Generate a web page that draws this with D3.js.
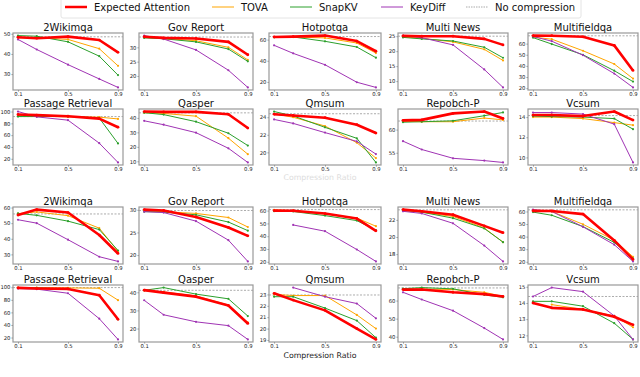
<!DOCTYPE html>
<html><head><meta charset="utf-8">
<script src="https://cdn.jsdelivr.net/npm/d3@7"></script>
<style>body{margin:0;background:#fff}svg{display:block;font-family:"DejaVu Sans",sans-serif}</style>
</head><body><svg id="c" width="640" height="377"></svg>
<script>
const ratios = [0.1, 0.25, 0.5, 0.75, 0.9];
const xTicks = [0.1, 0.5, 0.9];
const methods = ["Expected Attention", "TOVA", "SnapKV", "KeyDiff"];
const titles = ["2Wikimqa","Gov Report","Hotpotqa","Multi News","Multifieldqa",
  "Passage Retrieval","Qasper","Qmsum","Repobch-P","Vcsum",
  "2Wikimqa","Gov Report","Hotpotqa","Multi News","Multifieldqa",
  "Passage Retrieval","Qasper","Qmsum","Repobch-P","Vcsum"];
const expectedAttention = [
  [48.3,47.8,48.6,46.9,40.8],[33.7,33.3,33.1,31.9,27.4],[62.5,62.8,63.8,58.6,49.0],[25.1,25.0,25.0,24.1,22.1],[67.2,67.1,66.1,58.4,35.9],
  [95,94,92,88,73.5],[44.4,44.2,44.2,42.5,33.0],[24.35,24.2,23.95,23.15,22.2],[62.0,62.1,63.5,63.9,62.4],[14.2,14.2,14.1,14.55,13.7],
  [55.2,58.7,56.8,42.4,30.6],[30.05,29.85,28.4,26.1,24.25],[60.0,59.9,57.7,53.8,44.2],[23.2,23.0,22.6,21.3,20.5],[60.5,60.4,57.9,37.0,21.9],
  [99,98,97.4,87.4,49],[41.2,39.8,37.6,32.7,22.8],[23.1,22.5,21.6,20.0,19.05],[66.1,66.1,64.6,63.6,62.3],[14.0,13.7,13.6,13.15,12.65]];
const tova = [
  [48.0,48.0,47.2,42.6,34.1],[33.5,33.1,32.3,30.0,25.6],[62.3,62.4,61.6,56.8,47.3],[24.8,24.3,23.1,20.6,16.9],[65.8,64.0,53.6,41.7,28.6],
  [93,92.5,91,90.5,87.5],[43.6,43.1,41.2,26.0,14.9],[24.4,24.0,23.0,21.1,19.35],[61.8,61.7,61.7,62.5,62.1],[14.0,14.0,13.85,13.45,13.2],
  [56.1,57.2,54.8,46.8,32.0],[29.8,29.6,29.2,28.3,26.2],[60.5,60.0,57.4,54.2,47.8],[23.2,22.9,22.4,21.05,19.4],[61.0,60.0,49.8,37.2,24.0],
  [99.3,99.3,99,98.5,79.5],[41.0,40.2,38.0,33.0,23.4],[23.0,22.9,22.9,21.2,20.0],[66.4,66.4,66.1,64.6,62.3],[null,13.9,13.6,13.2,12.5]];
const snapkv = [
  [49.1,48.8,46.0,38.9,29.5],[33.3,33.0,31.9,29.4,25.1],[62.2,62.5,58.4,53.0,42.9],[24.6,24.1,23.4,21.3,17.8],[65.4,59.6,50.0,35.7,25.9],
  [91.5,91.5,92,89,46],[43.6,42.3,37.4,29.4,20.9],[24.65,24.15,22.85,21.6,18.85],[61.6,61.7,61.9,63.0,63.7],[14.1,14.05,14.0,13.85,12.8],
  [56.3,55.0,51.3,45.9,32.5],[29.6,29.5,28.9,27.3,25.4],[59.5,59.3,56.1,52.2,44.7],[23.1,22.9,22.2,21.0,19.4],[59.5,57.0,48.0,35.4,22.7],
  [99,99,97.5,87.5,49],[41.1,42.6,39.0,36.4,26.9],[22.8,22.8,21.8,20.7,19.2],[66.6,67.2,66.5,63.2,61.8],[14.1,14.1,13.8,12.75,11.75]];
const keydiff = [
  [47.2,42.2,34.7,27.6,23.4],[34.1,32.9,29.1,22.0,16.0],[54.6,47.0,36.2,19.7,14.8],[25.2,24.5,22.1,13.9,7.9],[66.4,62.2,49.6,33.1,20.7],
  [100,91,85.4,46.5,13.8],[38.0,35.3,29.8,19.0,9.2],[23.75,23.3,22.25,21.25,19.8],[57.5,55.7,53.8,53.3,52.9],[14.45,14.45,14.3,13.3,9.5],
  [52.2,50.0,39.4,28.5,25.5],[29.6,29.4,27.5,23.3,18.6],[null,48.8,43.9,29.6,20.3],[23.0,22.75,21.6,19.0,17.15],[61.5,60.0,47.8,33.6,20.3],
  [98,97,90.5,50,17],[35.6,27.6,23.7,21.6,14.0],[null,23.6,22.8,22.2,20.9],[64.6,60.6,54.4,44.8,38.5],[14.4,14.95,14.7,13.2,11.75]];
const noCompression = [48.5,33.6,62.9,25.0,67.0, 91.5,43.5,24.4,61.85,14.15, 55.9,29.85,60.8,23.17,61.3, 99.5,41.1,22.95,67.0,14.4];
const yTicks = [
  [30,40,50],[20,25,30],[20,40,60],[10,15,20,25],[20,30,40,50,60],
  [20,40,60,80,100],[10,20,30,40],[20,22,24],[55,60],[10,12,14],
  [30,40,50,60],[20,25,30],[20,30,40,50,60],[18,20,22],[20,30,40,50,60],
  [20,40,60,80,100],[20,30,40],[19,20,21,22,23],[40,50,60],[12,13,14,15]];

const colors = {"Expected Attention":"#ff0000","TOVA":"#ffa500","SnapKV":"#2ca02c","KeyDiff":"#a034b4"};
const widths = {"Expected Attention":2.6,"TOVA":1,"SnapKV":1,"KeyDiff":1};
const series = {"Expected Attention":expectedAttention,"TOVA":tova,"SnapKV":snapkv,"KeyDiff":keydiff};
const drawOrder = ["TOVA","SnapKV","KeyDiff","Expected Attention"];

const svg = d3.select("#c");
const colL = [13,139,269,398,528], colR = [123,253,381,508,638];
const rowT = [33,109,207,285], rowB = [90,165,264,342];

titles.forEach((t,i)=>{
  const r = Math.floor(i/5), c = i%5;
  const x = d3.scaleLinear().domain([0.06,0.94]).range([colL[c], colR[c]]);
  const all = [];
  methods.forEach(m=>series[m][i].forEach(v=>{ if(v!=null) all.push(v); }));
  all.push(noCompression[i]);
  const [mn,mx] = d3.extent(all); const pad=(mx-mn)*0.05;
  const y = d3.scaleLinear().domain([mn-pad, mx+pad]).range([rowB[r], rowT[r]]);
  const g = svg.append("g");
  const xa = g.append("g").attr("transform",`translate(0,${rowB[r]})`)
    .call(d3.axisBottom(x).tickValues(xTicks).tickSize(1.5).tickPadding(1).tickFormat(d3.format(".1f")));
  const ya = g.append("g").attr("transform",`translate(${colL[c]},0)`)
    .call(d3.axisLeft(y).tickValues(yTicks[i]).tickSize(1.5).tickPadding(1).tickFormat(d3.format("d")));
  [xa,ya].forEach(a=>{ a.select(".domain").remove(); a.selectAll("text").attr("font-size",5.3).attr("fill","#222").attr("font-family","DejaVu Sans"); a.selectAll("line").attr("stroke","#444").attr("stroke-width",0.6); });
  g.append("line").attr("x1",colL[c]).attr("x2",colR[c]).attr("y1",y(noCompression[i])).attr("y2",y(noCompression[i]))
    .attr("stroke","#888").attr("stroke-width",0.7).attr("stroke-dasharray","2,1.5");
  drawOrder.forEach(m=>{
    const pts = ratios.map((rr,k)=>[rr, series[m][i][k]]).filter(d=>d[1]!=null);
    g.append("path").datum(pts).attr("fill","none").attr("stroke",colors[m]).attr("stroke-width",widths[m])
      .attr("stroke-linejoin","round").attr("d", d3.line().x(d=>x(d[0])).y(d=>y(d[1])));
    g.selectAll(null).data(pts).enter().append("circle").attr("cx",d=>x(d[0])).attr("cy",d=>y(d[1]))
      .attr("r", m==="Expected Attention"?1.4:1.1).attr("fill",colors[m]);
  });
  g.append("rect").attr("x",colL[c]).attr("y",rowT[r]).attr("width",colR[c]-colL[c]).attr("height",rowB[r]-rowT[r])
    .attr("fill","none").attr("stroke","#999").attr("stroke-width",1.2);
  g.append("text").attr("x",(colL[c]+colR[c])/2).attr("y",rowT[r]-2).attr("text-anchor","middle")
    .attr("font-size",10).attr("fill","#111").text(t);
});

svg.append("text").attr("x",320).attr("y",358).attr("text-anchor","middle").attr("font-size",7.8).attr("fill","#222").text("Compression Ratio");
svg.append("text").attr("x",320).attr("y",180).attr("text-anchor","middle").attr("font-size",7.8).attr("fill","#ddd").text("Compression Ratio");

const leg = svg.append("g");
leg.append("rect").attr("x",61).attr("y",-3).attr("width",520).attr("height",21).attr("rx",2)
  .attr("fill","#fff").attr("stroke","#ddd").attr("stroke-width",0.8);
const legItems = methods.concat(["No compression"]);
const legX = [65,212,290,381,466];
legItems.forEach((m,k)=>{
  const col = m==="No compression" ? "#aaa" : colors[m];
  const ln = leg.append("line").attr("x1",legX[k]).attr("x2",legX[k]+22).attr("y1",7).attr("y2",7)
    .attr("stroke",col).attr("stroke-width", m==="Expected Attention"?2.5:1);
  if(m==="No compression") ln.attr("stroke-dasharray","1.5,1");
  leg.append("text").attr("x",legX[k]+29).attr("y",10.5).attr("font-size",10).attr("fill","#111").text(m);
});
</script></body></html>
